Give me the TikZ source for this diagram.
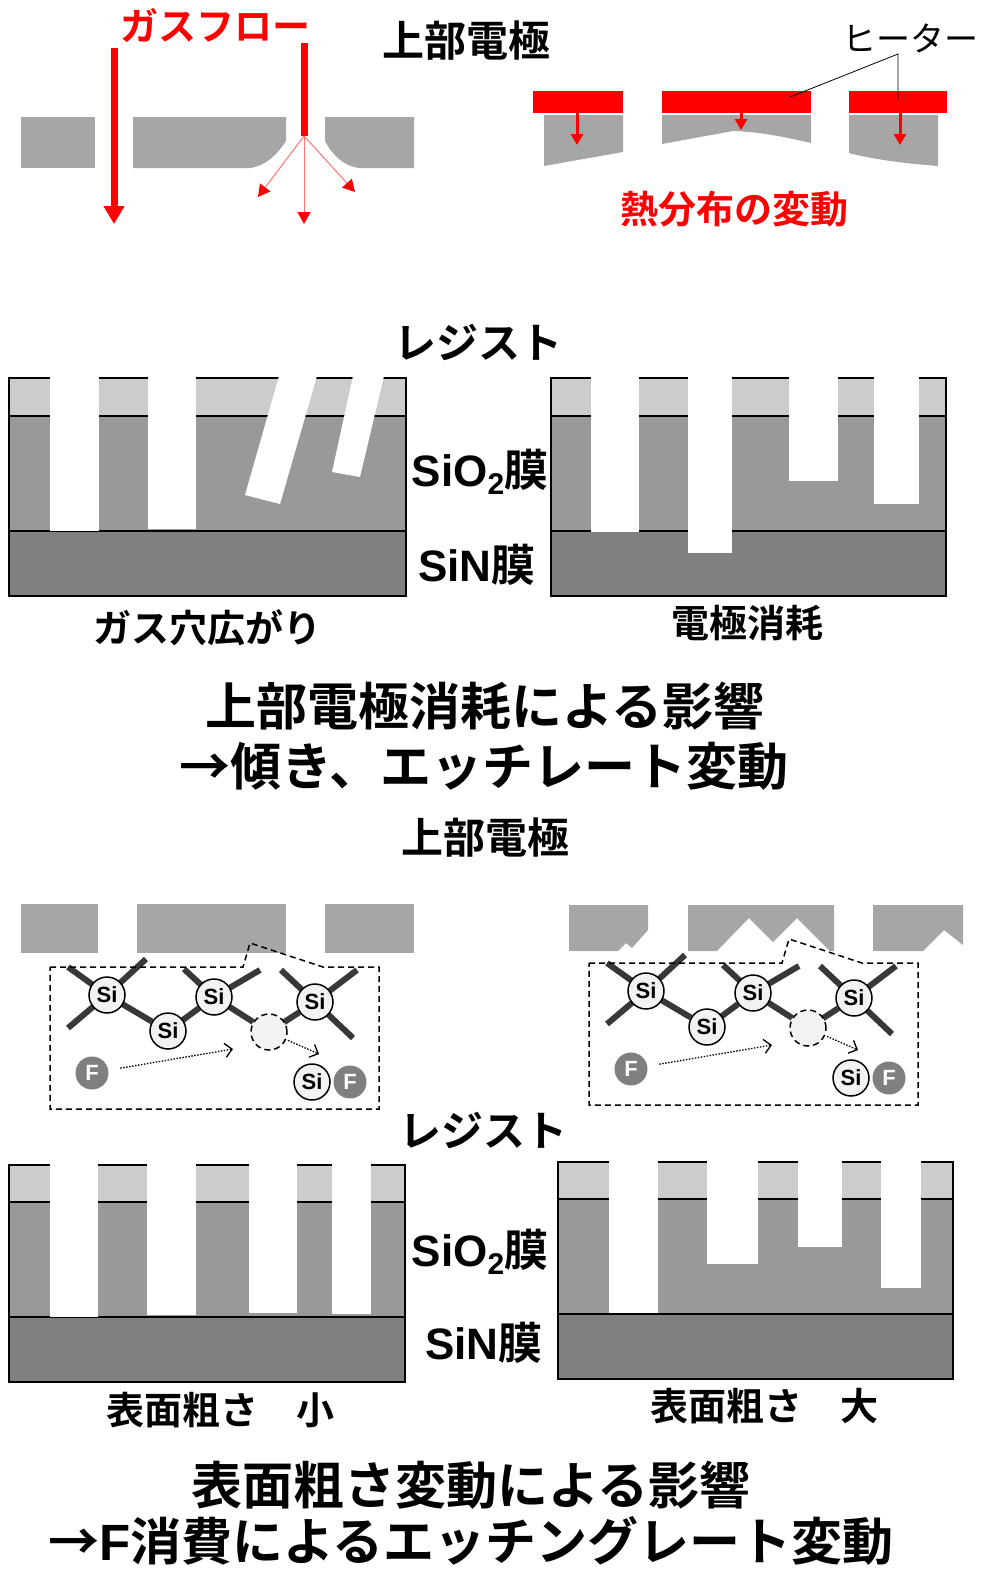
\documentclass[tikz,border=0pt]{standalone}
\usepackage{fontspec}
\setmainfont{Noto Sans CJK JP}[BoldFont={Noto Sans CJK JP Bold}]
\newfontfamily\lat{Liberation Sans}
\usetikzlibrary{arrows.meta,backgrounds}

\definecolor{elec}{HTML}{A6A6A6}
\definecolor{resist}{HTML}{CCCCCC}
\definecolor{oxide}{HTML}{999999}
\definecolor{nitride}{HTML}{808080}
\definecolor{bondgray}{HTML}{383838}
\definecolor{atomfill}{HTML}{F2F2F2}
\definecolor{fgray}{HTML}{7F7F7F}

\newcommand{\fsize}[1]{\fontsize{#1}{#1}\selectfont}

\begin{document}
\begin{tikzpicture}
[x=1pt, y=-1pt, every node/.style={inner sep=0pt},
 head/.style={font=\fsize{42}\bfseries},
 lbl/.style={font=\fsize{38}\bfseries},
 film/.style={font=\fsize{44}\bfseries},
 ttl/.style={font=\fsize{51}\bfseries},
 atom/.style={circle,draw,line width=1.5pt,fill=atomfill,minimum size=36pt,font=\lat\fsize{22}\bfseries},
 fatom/.style={circle,fill=fgray,text=white,minimum size=33pt,font=\lat\fsize{22}\bfseries},
 vac/.style={circle,draw,line width=1.5pt,dash pattern=on 6pt off 4pt,fill=atomfill,minimum size=36pt},
 arm/.style={bondgray,line width=6pt},
 flow/.style={line width=1.3pt,dash pattern=on 1.5pt off 1.5pt,-{Straight Barb[length=7pt,width=14pt]}},
 frame/.style={line width=1.5pt,dash pattern=on 6pt off 4pt},
 edge/.style={line width=2pt},
 gasflow/.style={red,line width=7pt,-{Triangle[width=20pt,length=18pt]}},
 spray/.style={red!55,line width=1pt,-{Triangle[width=13pt,length=12pt,red]}},
 heatflow/.style={red,line width=3pt,-{Triangle[width=12pt,length=11pt]}}]

\useasboundingbox (0,0) rectangle (983,1569);

% electrode with widened gas hole
\fill[elec] (21,117) rectangle (95,168);
\fill[elec] (133,117) -- (286,117) -- (286,141) .. controls (276,156) and (266,165) .. (251,168) -- (133,168) -- cycle;
\fill[elec] (325,117) -- (414,117) -- (414,168) -- (358,168) .. controls (343,165) and (333,156) .. (325,141) -- cycle;

\node[lbl,text=red] (gas) at (215,25) {ガスフロー};
\coordinate (g1) at (114,48);
\coordinate (g2) at (114,224);
\draw[gasflow] (g1) -- (g2);
\coordinate (g3) at (304,43);
\coordinate (g4) at (304,136);
\draw[red,line width=7pt] (g3) -- (g4);
\coordinate (s1) at (258,197);
\coordinate (s2) at (304,224);
\coordinate (s3) at (355,192);
\foreach \t in {s1,s2,s3}
	\draw[spray] (g4) -- (\t);

\node[head] (top1) at (466,41) {上部電極};

% heaters and worn electrode
\fill[red] (533,91) rectangle (623,113);
\fill[red] (662,91) rectangle (811,113);
\fill[red] (849,91) rectangle (947,113);
\fill[elec] (544,115) -- (623,115) -- (623,152) -- (544,166) -- cycle;
\fill[elec] (662,115) -- (811,115) -- (811,143) .. controls (780,136) and (760,132) .. (733,131) -- (662,144) -- cycle;
\fill[elec] (849,115) -- (938,115) -- (938,166) .. controls (900,163) and (872,159) .. (849,153) -- cycle;
\foreach \x/\y [count=\i] in {577/145,741/130,900/145}{
	\coordinate (hs\i) at (\x,110);
	\coordinate (he\i) at (\x,\y);
	\draw[heatflow] (hs\i) -- (he\i);
}
\node[font=\fsize{34},anchor=west] (heater) at (842,38) {ヒーター};
\coordinate (lk) at (898,54);
\coordinate (l1) at (790,97);
\coordinate (l2) at (898,100);
\draw[line width=0.8pt] (l1) -- (lk) -- (l2);
\node[lbl,text=red] (heat) at (734,209) {熱分布の変動};

% film stacks
\foreach \xa/\xb/\ya/\yb/\yc/\yd in {9/406/378/416/531/596,551/946/378/416/531/596,9/405/1165/1202/1317/1382,558/953/1162/1199/1314/1379}{
	\fill[resist] (\xa,\ya) rectangle (\xb,\yb);
	\fill[oxide] (\xa,\yb) rectangle (\xb,\yc);
	\fill[nitride] (\xa,\yc) rectangle (\xb,\yd);
	\draw[edge] (\xa,\yb) -- (\xb,\yb) (\xa,\yc) -- (\xb,\yc);
	\draw[edge] (\xa,\ya) rectangle (\xb,\yd);
}
\foreach \xa/\xb/\ya/\yb in {50/99/376/531,148/196/376/529,
	591/639/376/532,688/732/376/553,789/838/376/481,874/919/376/504,
	50/98/1163/1317,147/196/1163/1315,249/297/1163/1313,332/371/1163/1314,
	609/658/1160/1313,707/758/1160/1264,798/842/1160/1247,881/921/1160/1288}
	\fill[white] (\xa,\ya) rectangle (\xb,\yb);
\fill[white] (279,376) -- (317,376) -- (280,504) -- (245,495) -- cycle;
\fill[white] (353,376) -- (384,376) -- (360,477) -- (332,472) -- cycle;

\node[head] (res1) at (478,342) {レジスト};
\node[film] (ox1) at (480,470) {{\lat SiO}\raisebox{-8pt}[0pt][0pt]{\lat\fsize{30}2}膜};
\node[film] (ni1) at (477,565) {{\lat SiN}膜};
\node[lbl] (c1) at (207,628) {ガス穴広がり};
\node[lbl] (c2) at (747,623) {電極消耗};

\node[ttl] (t1) at (485,706) {上部電極消耗による影響};
\node[ttl] (t2) at (484,766) {→傾き、エッチレート変動};

% rough electrode
\node[head] (top2) at (485,838) {上部電極};
\fill[elec] (21,904) rectangle (98,953);
\fill[elec] (137,904) rectangle (286,953);
\fill[elec] (325,904) rectangle (414,953);
\fill[elec] (569,905) -- (648,905) -- (648,930) -- (632,948) -- (626,943) -- (618,951) -- (569,951) -- cycle;
\fill[elec] (688,905) -- (834,905) -- (834,951) -- (830,951) -- (797,918) -- (773,942) -- (749,918) -- (717,951) -- (688,951) -- cycle;
\fill[elec] (873,905) -- (963,905) -- (963,945) -- (944,930) -- (923,951) -- (873,951) -- cycle;

% surface reaction
\foreach \dx/\dy/\p in {0/0/a,539/-4/b}{
\begin{scope}[shift={(\dx,\dy)}]
\draw[frame] (50,967) -- (243,967) -- (250,943) -- (323,967) -- (379,967) -- (379,1109) -- (50,1109) -- cycle;
\node[atom] (\p1) at (107,995) {Si};
\node[atom] (\p2) at (168,1031) {Si};
\node[atom] (\p3) at (214,997) {Si};
\node[vac] (\p v) at (269,1032) {};
\node[atom] (\p4) at (315,1002) {Si};
\node[fatom] (\p f1) at (92,1073) {F};
\node[fatom] (\p f2) at (350,1082) {F};
\node[atom] (\p sf) at (312,1082) {Si};
\coordinate (\p e1) at (68,967);
\coordinate (\p e2) at (146,959);
\coordinate (\p e3) at (68,1028);
\coordinate (\p e4) at (184,969);
\coordinate (\p e5) at (260,970);
\coordinate (\p e6) at (281,970);
\coordinate (\p e7) at (357,970);
\coordinate (\p e8) at (353,1038);
\coordinate (\p h1) at (233,1049);
\coordinate (\p h2) at (319,1054);
\begin{pgfonlayer}{background}
\foreach \from/\to in {1/e1,1/e2,1/e3,1/2,2/3,3/e4,3/e5,3/v,v/4,4/e6,4/e7,4/e8}
	\draw[arm] (\p\from.center) -- (\p\to);
\end{pgfonlayer}
\draw[flow,shorten <=12pt] (\p f1) -- (\p h1);
\draw[flow,shorten <=2pt] (\p v) -- (\p h2);
\end{scope}
}

\node[head] (res2) at (483,1130) {レジスト};
\node[film] (ox2) at (480,1250) {{\lat SiO}\raisebox{-8pt}[0pt][0pt]{\lat\fsize{30}2}膜};
\node[film] (ni2) at (484,1343) {{\lat SiN}膜};
\node[lbl] (c3) at (220,1410) {表面粗さ　小};
\node[lbl] (c4) at (764,1406) {表面粗さ　大};

\node[ttl] (t3) at (471,1485) {表面粗さ変動による影響};
\node[ttl] (t4) at (471,1541) {→{\lat F}消費によるエッチングレート変動};

\end{tikzpicture}
\end{document}
